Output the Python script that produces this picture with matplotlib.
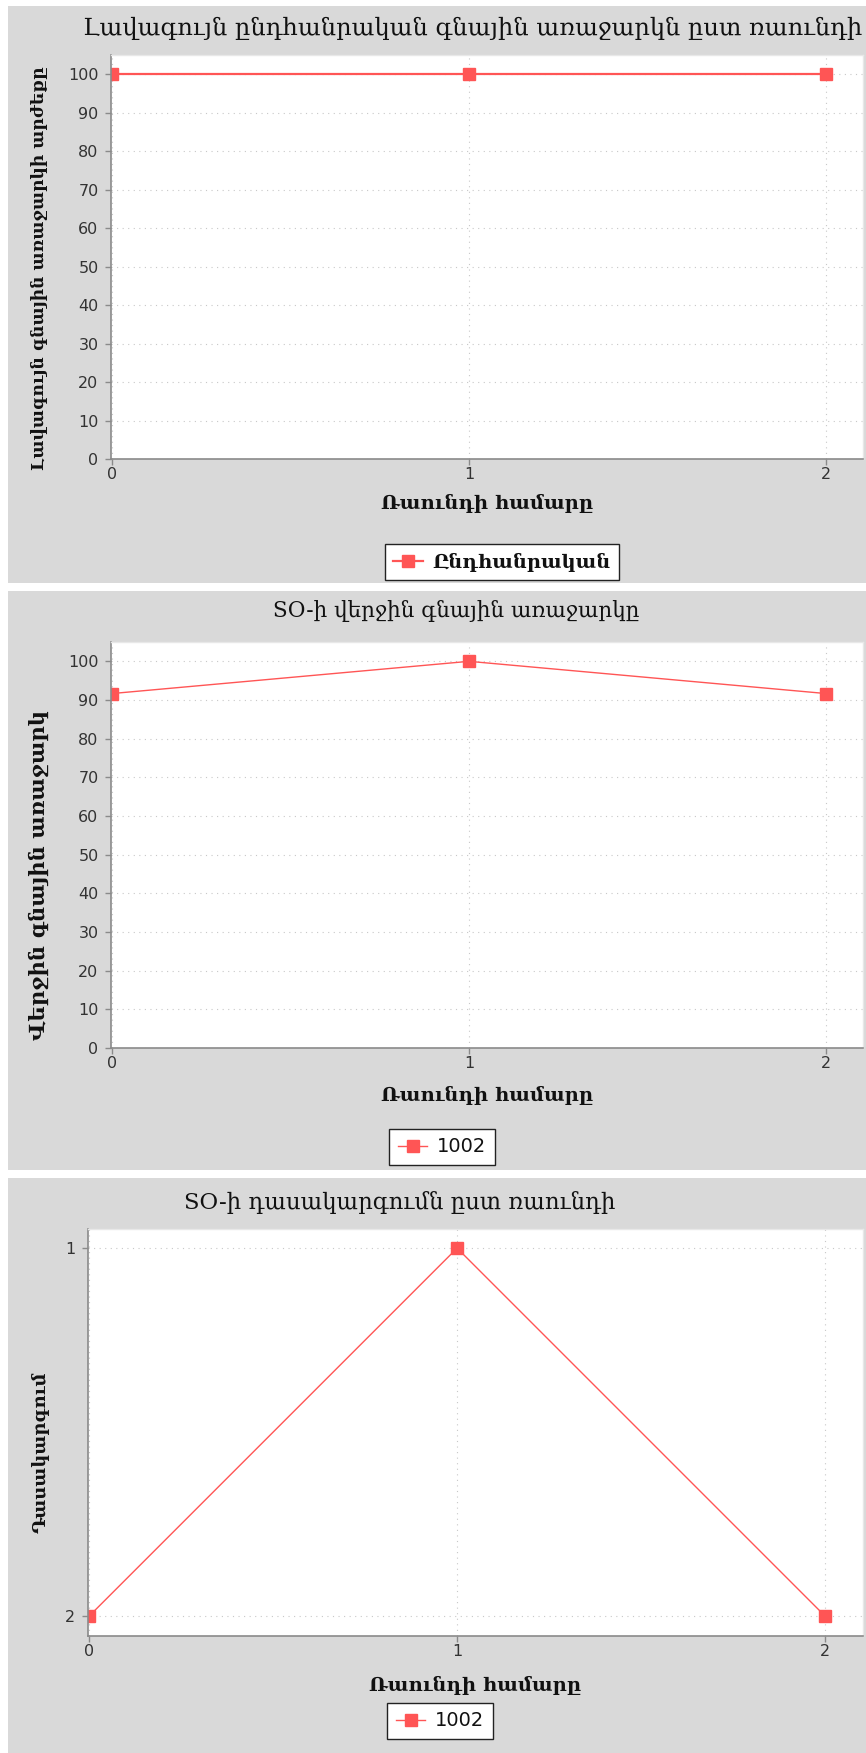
import matplotlib
matplotlib.use('Agg')
import matplotlib.pyplot as plt
from matplotlib.patches import Rectangle
from matplotlib import font_manager

# data
rounds = [0, 1, 2]
best_total = [100, 100, 100]
last_offer = [91.67, 100, 91.67]
ranking = [2, 1, 2]

titles = ['Լավագույն ընդհանրական գնային առաջարկն ըստ ռաունդի',
          'SO-ի վերջին գնային առաջարկը',
          'SO-ի դասակարգումն ըստ ռաունդի']
ylabels = ['Լավագույն գնային առաջարկի արժեքը',
           'Վերջին գնային առաջարկ',
           'Դասակարգում']
xlabel = 'Ռաունդի համարը'
series_names = ['Ընդհանրական', '1002', '1002']

# fonts
names = {f.name for f in font_manager.fontManager.ttflist}
tick_font = 'Liberation Sans Narrow' if 'Liberation Sans Narrow' in names else 'DejaVu Sans'
tick_size = 13 if tick_font == 'Liberation Sans Narrow' else 11.5
arm_font = ['DejaVu Serif', 'DejaVu Sans']

W, H = 866, 1753
fig = plt.figure(figsize=(W / 100, H / 100), dpi=100, facecolor='white')

def box(l, t, r, b):
    return [l / W, 1 - b / H, (r - l) / W, (b - t) / H]

bg = '#d9d9d9'
red = '#ff5555'

# panel backgrounds
for t, b in [(6, 583), (591, 1170), (1178, 1753)]:
    fig.add_artist(Rectangle((8 / W, 1 - b / H), (W - 8) / W, (b - t) / H,
                             transform=fig.transFigure, facecolor=bg, edgecolor='none', zorder=0))

def setup(ax, ylim, yticks, xlim):
    ax.set_facecolor('white')
    ax.set_xlim(*xlim)
    ax.set_ylim(*ylim)
    ax.set_xticks(rounds)
    ax.set_yticks(yticks)
    ax.grid(True, color='#c8c8c8', linestyle=(0, (1, 4)), linewidth=0.8)
    ax.set_axisbelow(True)
    for s in ['top', 'right']:
        ax.spines[s].set_color('#e8e8e8')
        ax.spines[s].set_linewidth(1)
    for s in ['left', 'bottom']:
        ax.spines[s].set_color('#8a8a8a')
        ax.spines[s].set_linewidth(1.2)
    ax.tick_params(axis='both', direction='out', length=4, width=1, color='#8a8a8a',
                   labelcolor='#333333', labelsize=tick_size)
    ax.tick_params(axis='y', pad=5)
    ax.tick_params(axis='x', pad=2)
    for lab in ax.get_xticklabels() + ax.get_yticklabels():
        lab.set_fontfamily(tick_font)

# panel 1
ax1 = fig.add_axes(box(111, 55, 863, 459))
setup(ax1, (0, 105), range(0, 101, 10), (-0.003, 2.104))
ax1.plot(rounds, best_total, color=red, lw=1.6, marker='s', ms=9, label=series_names[0])

# panel 2
ax2 = fig.add_axes(box(111, 642, 863, 1048))
setup(ax2, (0, 105), range(0, 101, 10), (-0.003, 2.104))
ax2.plot(rounds, last_offer, color=red, lw=1.0, marker='s', ms=9, label=series_names[1])

# panel 3
ax3 = fig.add_axes(box(88, 1229, 863, 1636))
setup(ax3, (2.054, 0.948), [1, 2], (-0.003, 2.103))
ax3.plot(rounds, ranking, color=red, lw=1.0, marker='s', ms=9, label=series_names[2])

# texts
def ftext(x, y, s, **kw):
    fig.text(x / W, 1 - y / H, s, ha='center', va='center', **kw)

title_pos = [(473, 28), (456, 611), (400, 1203)]
title_size = [17.4, 15.5, 16.4]
xlab_pos = [(487, 503), (487, 1095), (475, 1685)]
ylab_pos = [(39, 268), (39, 875), (41, 1452)]
ylab_size = [12.3, 15.3, 13]
for i in range(3):
    ftext(*title_pos[i], titles[i], family=arm_font, fontsize=title_size[i], color='#111111')
    ftext(*xlab_pos[i], xlabel, family=arm_font, fontsize=14, fontweight='bold', color='#111111')
    ftext(*ylab_pos[i], ylabels[i], family=arm_font, fontsize=ylab_size[i], fontweight='bold',
          color='#111111', rotation=90)

# legends
leg_pos = [(502, 562), (442, 1147), (440, 1721)]
for i, ax in enumerate([ax1, ax2, ax3]):
    if i == 0:
        prop = {'family': arm_font, 'weight': 'bold', 'size': 14}
    else:
        prop = {'family': 'DejaVu Sans', 'size': 14}
    leg = ax.legend(loc='center', bbox_to_anchor=(leg_pos[i][0] / W, 1 - leg_pos[i][1] / H),
                    bbox_transform=fig.transFigure, prop=prop, frameon=True, fancybox=False,
                    framealpha=1, edgecolor='#222222', handlelength=1.5, handletextpad=0.5,
                    borderpad=0.45, borderaxespad=0, markerscale=1.0)
    leg.get_frame().set_linewidth(1.0)
    for t in leg.get_texts():
        t.set_color('#111111')

fig.savefig('out.png', dpi=100, facecolor='white')
